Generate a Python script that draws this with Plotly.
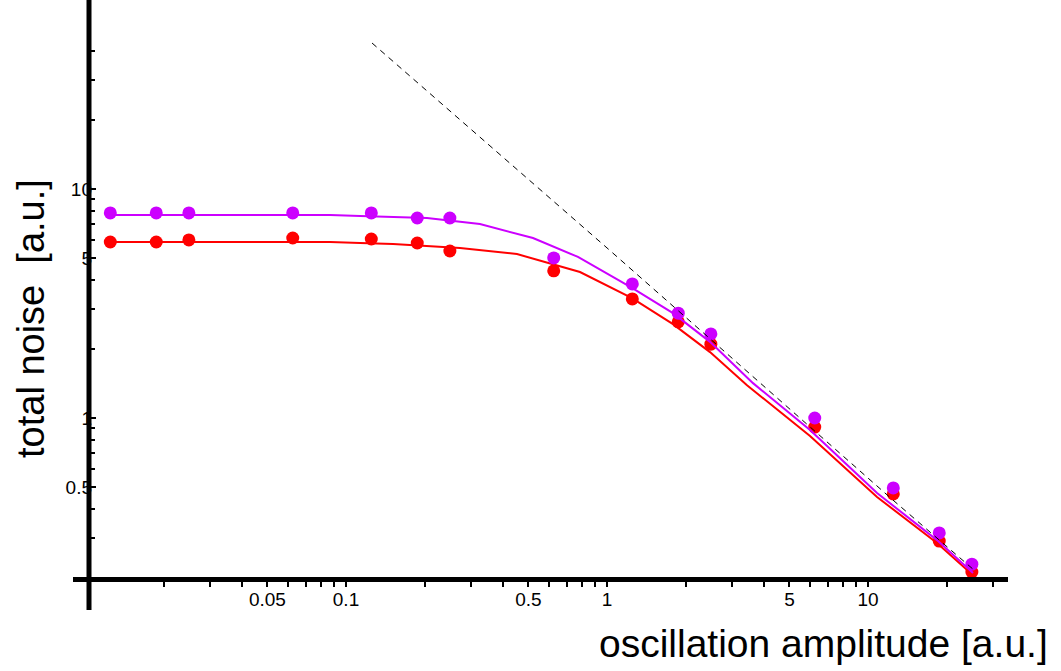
import plotly.graph_objects as go

# data points
amp = [0.0125, 0.01875, 0.025, 0.0625, 0.125, 0.1875, 0.25, 0.625, 1.25, 1.875, 2.5, 6.25, 12.5, 18.75, 25]
noise_purple = [7.86, 7.86, 7.86, 7.86, 7.86, 7.47, 7.47, 5.0, 3.85, 2.87, 2.33, 1.0, 0.495, 0.315, 0.230]
noise_red = [5.87, 5.87, 5.99, 6.11, 6.05, 5.81, 5.36, 4.39, 3.31, 2.63, 2.10, 0.913, 0.466, 0.290, 0.2126]

# fitted curves
fit_x_purple = [0.0126, 0.0869, 0.1132, 0.1514, 0.2043, 0.326, 0.5205, 0.774, 1.247, 1.790, 2.481, 3.626, 5.996, 10.83, 18.38, 25.25]
fit_y_purple = [7.70, 7.70, 7.62, 7.55, 7.47, 7.03, 6.11, 5.05, 3.70, 2.87, 2.15, 1.42, 0.886, 0.470, 0.293, 0.2104]
fit_x_red = [0.0126, 0.0869, 0.1132, 0.1514, 0.2734, 0.4519, 0.788, 1.247, 1.790, 2.481, 3.439, 5.996, 10.83, 18.38, 25.25]
fit_y_red = [5.87, 5.87, 5.81, 5.75, 5.52, 5.20, 4.34, 3.34, 2.57, 1.94, 1.39, 0.834, 0.452, 0.2845, 0.206]

# asymptote (dashed)
asym_x = [0.1258, 1.0, 12.47, 25.7]
asym_y = [43.4, 5.53, 0.438, 0.215]

x_major = [0.05, 0.1, 0.5, 1, 5, 10]
x_major_text = ["0.05", "0.1", "0.5", "1", "5", "10"]
x_minor = [0.02, 0.03, 0.04, 0.06, 0.07, 0.08, 0.09, 0.2, 0.3, 0.4, 0.6, 0.7, 0.8, 0.9,
           2, 3, 4, 6, 7, 8, 9, 20, 30]
y_major = [0.5, 1, 5, 10]
y_major_text = ["0.5", "1", "5", "10"]
y_minor = [0.3, 0.4, 0.6, 0.7, 0.8, 0.9, 2, 3, 4, 6, 7, 8, 9, 20, 30, 40]

PURPLE = "#CC00FF"
RED = "#FF0000"
FONT = "Liberation Sans, Arial, sans-serif"

W, H = 1061, 671
L, R, T, B = 73, 53, 3, 94
pw, ph = W - L - R, H - T - B

def px(xpix):
    return (xpix - L) / pw

def py(ypix):
    return (H - B - ypix) / ph

fig = go.Figure()
fig.add_trace(go.Scatter(x=fit_x_red, y=fit_y_red, mode="lines",
                         line=dict(color=RED, width=2), showlegend=False))
fig.add_trace(go.Scatter(x=amp, y=noise_red, mode="markers",
                         marker=dict(color=RED, size=13), showlegend=False))
fig.add_trace(go.Scatter(x=fit_x_purple, y=fit_y_purple, mode="lines",
                         line=dict(color=PURPLE, width=2), showlegend=False))
fig.add_trace(go.Scatter(x=amp, y=noise_purple, mode="markers",
                         marker=dict(color=PURPLE, size=13), showlegend=False))
fig.add_trace(go.Scatter(x=asym_x, y=asym_y, mode="lines",
                         line=dict(color="black", width=1, dash="6px,5px"), showlegend=False))

fig.update_layout(
    width=W, height=H,
    margin=dict(l=L, r=R, t=T, b=B, pad=0),
    paper_bgcolor="white", plot_bgcolor="white",
    font=dict(family=FONT, color="black"),
    xaxis=dict(type="log", range=[-2.046, 1.5364], showgrid=False, zeroline=False,
               showline=True, linewidth=5, linecolor="black",
               ticks="outside", ticklen=5, tickwidth=1.5, tickcolor="black",
               tickvals=x_major, ticktext=x_major_text, tickfont=dict(size=19),
               ticklabelstandoff=-4,
               minor=dict(tickvals=x_minor, ticks="outside", ticklen=5, tickwidth=1.5, tickcolor="black")),
    yaxis=dict(type="log", range=[-0.6943, 1.8122], showgrid=False, zeroline=False,
               showline=False, anchor="free", position=px(89),
               ticks="inside", ticklen=6, tickwidth=1.5, tickcolor="black",
               tickvals=y_major, ticktext=y_major_text, tickfont=dict(size=19),
               ticklabelstandoff=-3,
               minor=dict(tickvals=y_minor, ticks="inside", ticklen=5, tickwidth=1.5, tickcolor="black")),
    shapes=[dict(type="line", xref="paper", yref="paper", x0=px(89), x1=px(89),
                 y0=py(610), y1=py(0), line=dict(color="black", width=5))],
    annotations=[
        dict(text="oscillation amplitude [a.u.]", xref="paper", yref="paper",
             x=px(1050), y=py(643), xanchor="right", yanchor="middle", showarrow=False,
             font=dict(size=39, family=FONT)),
        dict(text="total noise\u00a0 [a.u.]", xref="paper", yref="paper", textangle=-90,
             x=px(31), y=py(319), xanchor="center", yanchor="middle", showarrow=False,
             font=dict(size=38, family=FONT)),
    ],
)

fig.write_html("out.html", config={"displayModeBar": False},
               post_script="document.body.style.margin='0px';")
